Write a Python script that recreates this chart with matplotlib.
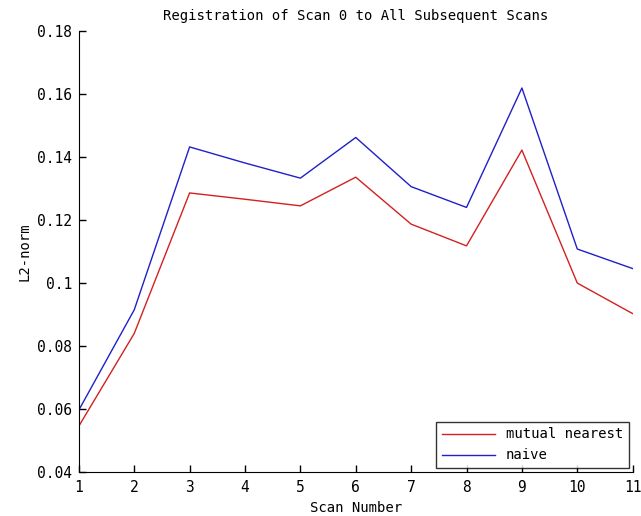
import matplotlib
matplotlib.use("Agg")
import matplotlib.pyplot as plt

scan_number = [1, 2, 3, 4, 5, 6, 7, 8, 9, 10, 11]
mutual_nearest = [0.0546, 0.084, 0.1286, 0.1266, 0.1245, 0.1336, 0.1187, 0.1118, 0.1422, 0.1000, 0.0903]
naive = [0.0597, 0.0915, 0.1432, 0.1381, 0.1333, 0.1462, 0.1306, 0.1240, 0.1619, 0.1108, 0.1046]

plt.rcParams['font.family'] = ['DejaVu Sans Mono']
plt.rcParams['font.size'] = 10

fig = plt.figure(figsize=(6.41, 5.16), dpi=100)
ax = fig.add_axes([0.123, 0.085, 0.864, 0.855])

ax.plot(scan_number, mutual_nearest, color='#d42020', linewidth=1, label='mutual nearest')
ax.plot(scan_number, naive, color='#2020c8', linewidth=1, label='naive')

ax.set_xlim(1, 11)
ax.set_ylim(0.04, 0.18)
ax.set_xticks(scan_number)
ax.set_yticks([0.04, 0.06, 0.08, 0.1, 0.12, 0.14, 0.16, 0.18])
ax.set_yticklabels(['0.04', '0.06', '0.08', '0.1', '0.12', '0.14', '0.16', '0.18'])
ax.tick_params(direction='in', length=5, width=1, labelsize=10.5, pad=5)
ax.tick_params(axis='x', pad=6)
ax.spines['top'].set_visible(False)
ax.spines['right'].set_visible(False)

ax.set_xlabel('Scan Number', fontsize=10)
ax.set_ylabel('L2-norm', fontsize=10)
ax.set_title('Registration of Scan 0 to All Subsequent Scans', fontsize=10, pad=8)

leg = ax.legend(loc='lower right', fontsize=10, frameon=True, fancybox=False,
                edgecolor='black', handlelength=3.8, borderaxespad=0.3)
leg.get_frame().set_linewidth(1)

fig.savefig('out.png', dpi=100)
